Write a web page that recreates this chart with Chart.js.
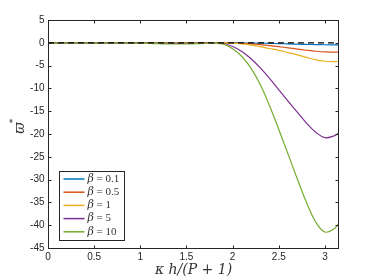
<!DOCTYPE html>
<html>
<head>
<meta charset="utf-8">
<script src="https://cdn.jsdelivr.net/npm/chart.js@4.4.1/dist/chart.umd.min.js"></script>
<style>
  html, body { margin:0; padding:0; background:#fff; }
  #wrap { width:374px; height:280px; position:relative; }
</style>
</head>
<body>
<div id="wrap"><canvas id="c" width="374" height="280"></canvas></div>
<script>
// kappa h/(P+1) samples
const xs = [0,0.1,0.2,0.3,0.4,0.5,0.6,0.7,0.8,0.9,1.0,1.1,1.2,1.3,1.4,1.5,1.6,1.7,1.8,1.9,2.0,2.1,2.2,2.3,2.4,2.5,2.6,2.7,2.8,2.9,3.0,3.1,3.1416];

const betaLabels = ['0.1','0.5','1','5','10'];
const colors = ['#0072BD','#D95319','#EDB120','#7E2F8E','#77AC30'];

const b01 = [0,0,0,0,0,0,0,0,0,0,0,0,0,0,0,0,0,0,0,0,-0.01,-0.03,-0.05,-0.08,-0.13,-0.18,-0.24,-0.3,-0.35,-0.4,-0.43,-0.45,-0.45];
const b05 = [0,0,0,0,0,0,0,0,0,0,-0.02,-0.04,-0.05,-0.06,-0.06,-0.05,-0.04,-0.02,-0.01,-0.02,-0.05,-0.12,-0.25,-0.42,-0.62,-0.85,-1.1,-1.38,-1.63,-1.85,-2.0,-2.05,-2.05];
const b1  = [0,0,0,0,0,0,0,0,0,0,-0.02,-0.04,-0.06,-0.07,-0.07,-0.06,-0.05,-0.03,-0.02,-0.03,-0.1,-0.25,-0.5,-0.85,-1.25,-1.65,-2.15,-2.65,-3.2,-3.7,-4.05,-4.15,-4.05];
const b5  = [0,0,0,0,0,0,0,0,0,-0.02,-0.05,-0.08,-0.12,-0.14,-0.15,-0.14,-0.1,-0.06,-0.05,-0.15,-0.8,-1.9,-3.5,-5.5,-7.8,-10.3,-12.8,-15.2,-17.6,-19.6,-20.8,-20.4,-19.9];
const b10 = [0,0,0,0,0,0,0,0,-0.02,-0.05,-0.1,-0.15,-0.2,-0.25,-0.26,-0.25,-0.2,-0.15,-0.1,-0.3,-1.3,-3.0,-5.6,-9.2,-13.8,-19.0,-24.4,-29.8,-35.0,-39.3,-41.5,-40.8,-39.8];
const series = [b01,b05,b1,b5,b10];

const xTicks = [0,0.5,1,1.5,2,2.5,3];
const yTicks = [5,0,-5,-10,-15,-20,-25,-30,-35,-40,-45];

const axisCol = '#262626';
const tickFont = '10px "Liberation Sans", Arial, sans-serif';

// later series sit on top, as in the original plot
const datasets = series.map((s, i) => ({
  label: 'β = ' + betaLabels[i],
  data: xs.map((x, j) => ({x: x, y: s[j]})),
  borderColor: colors[i], borderWidth: 1.2, pointRadius: 0,
  tension: 0.4, fill: false, order: 10 - i
}));
datasets.push({
  label: 'zero', data: [{x: 0, y: 0}, {x: Math.PI, y: 0}],
  borderColor: '#000', borderWidth: 1.3, borderDash: [6, 4], pointRadius: 0, order: 0
});

// box, inward ticks, axis titles, legend
const frame = {
  id: 'frame',
  afterDraw(chart) {
    const ctx = chart.ctx, a = chart.chartArea;
    const sx = chart.scales.x, sy = chart.scales.y;
    const L = Math.round(a.left) + 0.5, R = Math.round(a.right) + 0.5;
    const T = Math.round(a.top) + 0.5, B = Math.round(a.bottom) + 0.5;
    ctx.save();
    ctx.strokeStyle = axisCol; ctx.lineWidth = 1;
    ctx.strokeRect(L, T, R - L, B - T);
    ctx.beginPath();
    xTicks.forEach(v => {
      const p = Math.round(sx.getPixelForValue(v)) + 0.5;
      ctx.moveTo(p, B); ctx.lineTo(p, B - 3);
      ctx.moveTo(p, T); ctx.lineTo(p, T + 3);
    });
    yTicks.forEach(v => {
      const p = Math.round(sy.getPixelForValue(v)) + 0.5;
      ctx.moveTo(L, p); ctx.lineTo(L + 3, p);
      ctx.moveTo(R, p); ctx.lineTo(R - 3, p);
    });
    ctx.stroke();

    // tick labels
    ctx.fillStyle = axisCol; ctx.font = tickFont;
    ctx.textAlign = 'center'; ctx.textBaseline = 'top';
    xTicks.forEach(v => ctx.fillText(String(v), sx.getPixelForValue(v), B + 4));
    ctx.textAlign = 'right'; ctx.textBaseline = 'middle';
    yTicks.forEach(v => ctx.fillText(String(v), L - 4, sy.getPixelForValue(v)));

    // x title
    ctx.fillStyle = '#333';
    ctx.font = 'italic 14px "DejaVu Serif", "Liberation Serif", serif';
    ctx.textAlign = 'center'; ctx.textBaseline = 'middle';
    ctx.fillText('κ h/(P + 1)', (L + R) / 2, 270);

    // y title
    ctx.save();
    ctx.translate(20, 128); ctx.rotate(-Math.PI / 2);
    ctx.font = 'italic 14px "DejaVu Serif", "Liberation Serif", serif';
    ctx.fillText('ϖ', 0, 0);
    ctx.font = '9px "DejaVu Sans", sans-serif';
    ctx.fillText('*', 7, -6);
    ctx.restore();

    // legend
    const bx = 59.5, by = 171.5, bw = 65, bh = 69;
    ctx.fillStyle = '#fff'; ctx.fillRect(bx, by, bw, bh);
    ctx.strokeStyle = axisCol; ctx.lineWidth = 1; ctx.strokeRect(bx, by, bw, bh);
    ctx.textAlign = 'left'; ctx.textBaseline = 'middle';
    betaLabels.forEach((lab, i) => {
      const y = 179 + i * 13.2;
      ctx.strokeStyle = colors[i]; ctx.lineWidth = 1.5;
      ctx.beginPath(); ctx.moveTo(63.5, y); ctx.lineTo(84.5, y); ctx.stroke();
      ctx.fillStyle = '#333';
      ctx.font = 'italic 11px "DejaVu Serif", "Liberation Serif", serif';
      ctx.fillText('β', 87.5, y);
      const w = ctx.measureText('β').width;
      ctx.font = '11px "Liberation Serif", serif';
      ctx.fillText(' = ' + lab, 87.5 + w, y);
    });
    ctx.restore();
  }
};

new Chart(document.getElementById('c'), {
  type: 'line',
  data: { datasets: datasets },
  options: {
    responsive: false, animation: false, devicePixelRatio: 1,
    layout: { padding: { left: 0, right: 36, top: 20, bottom: 0 } },
    plugins: { legend: { display: false }, tooltip: { enabled: false } },
    scales: {
      x: {
        type: 'linear', min: 0, max: Math.PI,
        grid: { display: false }, border: { display: false },
        ticks: { display: false },
        afterFit: s => { s.height = 32; }
      },
      y: {
        min: -45, max: 5,
        grid: { display: false }, border: { display: false },
        ticks: { display: false },
        afterFit: s => { s.width = 48; }
      }
    }
  },
  plugins: [frame]
});
</script>
</body>
</html>
